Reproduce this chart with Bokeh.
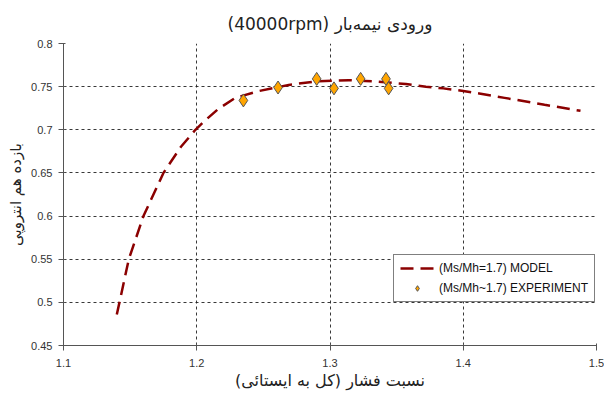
from bokeh.plotting import figure
from bokeh.models import FixedTicker, NumeralTickFormatter, Legend, LegendItem, Range1d, Title
from bokeh.embed import file_html
from bokeh.resources import INLINE

title_text = "(40000rpm) ورودی نیمه‌بار"
x_label = "نسبت فشار (کل به ایستائی)"
y_label = "بازده هم انتروپی"

model_x = [1.14, 1.142, 1.149, 1.160, 1.175, 1.188, 1.199, 1.205, 1.216, 1.229, 1.247,
           1.269, 1.289, 1.314, 1.334, 1.357, 1.372, 1.385, 1.40, 1.412, 1.431, 1.461, 1.488]
model_y = [0.486, 0.50, 0.55, 0.60, 0.65, 0.68, 0.70, 0.709, 0.724, 0.737, 0.745,
           0.752, 0.756, 0.7575, 0.756, 0.753, 0.750, 0.748, 0.745, 0.742, 0.737, 0.729, 0.722]

exp_x = [1.235, 1.261, 1.290, 1.303, 1.323, 1.342, 1.344]
exp_y = [0.734, 0.749, 0.759, 0.748, 0.759, 0.759, 0.748]

x_ticks = [1.1, 1.2, 1.3, 1.4, 1.5]
y_ticks = [0.45, 0.5, 0.55, 0.6, 0.65, 0.7, 0.75, 0.8]

p = figure(width=604, height=396, output_backend="svg", toolbar_location=None,
           x_range=Range1d(1.1, 1.5), y_range=Range1d(0.45, 0.8),
           min_border_left=63, min_border_right=8, min_border_top=43, min_border_bottom=51)
p.title = None
p.add_layout(Title(text=title_text, align="center", text_font="DejaVu Sans",
                   text_font_size="17px", text_font_style="normal", text_color="#222222",
                   standoff=20), "above")

p.outline_line_color = None
p.background_fill_color = "white"
p.border_fill_color = "white"

for ax in (p.xaxis[0], p.yaxis[0]):
    ax.axis_line_color = "#555555"
    ax.major_tick_line_color = "#555555"
    ax.major_tick_in = 2
    ax.major_tick_out = 5
    ax.minor_tick_line_color = None
    ax.major_label_text_font = "Liberation Sans"
    ax.major_label_text_font_size = "11px"
    ax.major_label_text_color = "#333333"
    ax.axis_label_text_font = "DejaVu Sans"
    ax.axis_label_text_font_size = "16px"
    ax.axis_label_text_font_style = "normal"
    ax.axis_label_text_color = "#222222"

p.xaxis[0].ticker = FixedTicker(ticks=x_ticks)
p.yaxis[0].ticker = FixedTicker(ticks=y_ticks)
p.xaxis[0].formatter = NumeralTickFormatter(format="0.0")
p.yaxis[0].formatter = NumeralTickFormatter(format="0.0[0]")
p.xaxis[0].axis_label = x_label
p.yaxis[0].axis_label = y_label
p.xaxis[0].major_label_standoff = 8
p.yaxis[0].major_label_standoff = 6
p.xaxis[0].axis_label_standoff = 1
p.yaxis[0].axis_label_standoff = 3
p.yaxis[0].axis_label_text_font_size = "15px"

for g in (p.xgrid[0], p.ygrid[0]):
    g.grid_line_color = "#222222"
    g.grid_line_dash = "3 3"
    g.grid_line_width = 1
    g.grid_line_alpha = 0.9

r_model = p.line(model_x, model_y, line_color="#8B0000", line_width=2.5, line_dash="13 7")
r_exp = p.scatter(exp_x, exp_y, marker="diamond", size=13, fill_color="#FFA500",
                  line_color="#555555", line_width=1)

legend = Legend(items=[LegendItem(label="(Ms/Mh=1.7) MODEL", renderers=[r_model]),
                       LegendItem(label="(Ms/Mh~1.7) EXPERIMENT", renderers=[r_exp])],
                location=(330, 43))
legend.border_line_color = "#000000"
legend.border_line_width = 1
legend.background_fill_color = "white"
legend.background_fill_alpha = 1
legend.label_text_font = "Liberation Sans"
legend.label_text_font_size = "12px"
legend.label_text_color = "#111111"
legend.glyph_width = 34
legend.glyph_height = 14
legend.spacing = 6
legend.padding = 6
legend.margin = 0
legend.label_standoff = 5
p.add_layout(legend, "center")

open("out.html", "w").write(file_html(p, INLINE))
